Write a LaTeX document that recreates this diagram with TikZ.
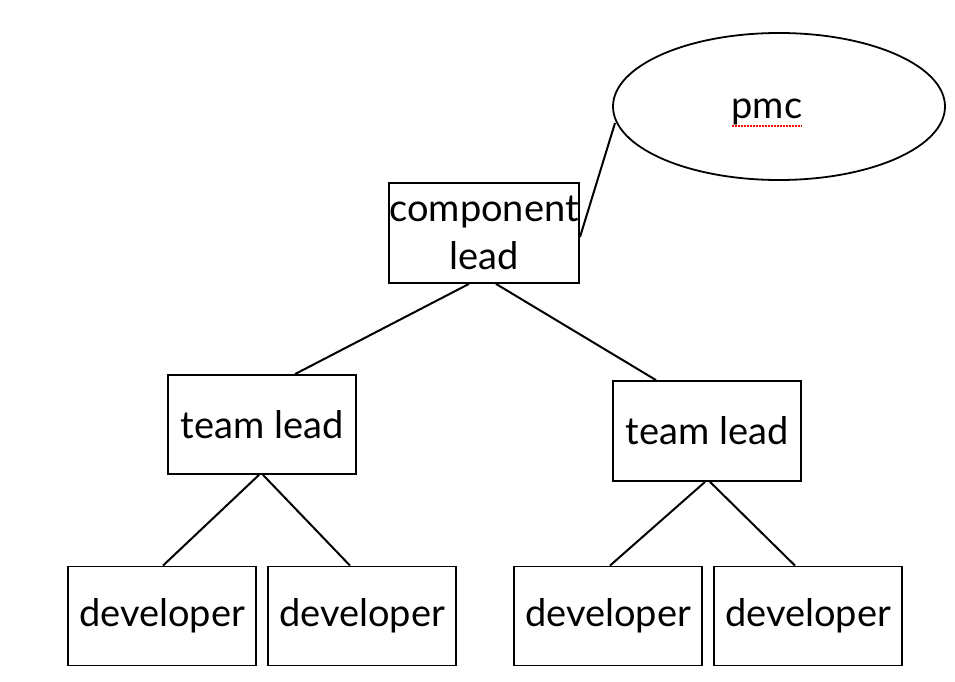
\documentclass[tikz,border=0pt]{standalone}
\usepackage{fontspec}
\setmainfont{Lato}
\usetikzlibrary{shapes.geometric}
\begin{document}
\begin{tikzpicture}[x=1pt,y=-1pt,
  box/.style={draw,line width=1.8pt,minimum width=188pt,minimum height=100pt,inner sep=0pt,font=\fontsize{38}{48}\selectfont,align=center},
  link/.style={line width=2pt}]
\useasboundingbox (0,0) rectangle (955,682);
\node[box] (cl) at (484,233) {component\\lead};
\node[draw,ellipse,line width=1.8pt,minimum width=332pt,minimum height=147pt,inner sep=0pt] (pmc) at (779,106.5) {};
\node[inner sep=0pt,font=\fontsize{38}{44}\selectfont] (pmct) at (767,112) {pmc};
\node[box,minimum height=99pt] (tl1) at (262,424.5) {team lead};
\node[box] (tl2) at (707,431) {team lead};
\node[box,minimum height=99pt] (d1) at (162,616) {developer};
\node[box,minimum height=99pt] (d2) at (362,616) {developer};
\node[box,minimum height=99pt] (d3) at (608,616) {developer};
\node[box,minimum height=99pt] (d4) at (808,616) {developer};
\coordinate (cla) at (580,237);
\coordinate (pmca) at (615,123);
\draw[link] (cla) -- (pmca);
\draw[link] ([xshift=-15pt]cl.south) -- ([xshift=33pt]tl1.north);
\draw[link] ([xshift=12pt]cl.south) -- ([xshift=-51pt]tl2.north);
\draw[link] ([xshift=-3pt]tl1.south) -- ([xshift=1pt]d1.north);
\draw[link] ([xshift=1pt]tl1.south) -- ([xshift=-12pt]d2.north);
\draw[link] ([xshift=-2pt]tl2.south) -- ([xshift=2pt]d3.north);
\draw[link] ([xshift=3pt]tl2.south) -- ([xshift=-13pt]d4.north);
\coordinate (u1) at (732,126);
\coordinate (u2) at (802,126);
\draw[red!90!orange,line width=1.4pt,dash pattern=on 1.5pt off 1.5pt] (u1) -- (u2);
\end{tikzpicture}
\end{document}
